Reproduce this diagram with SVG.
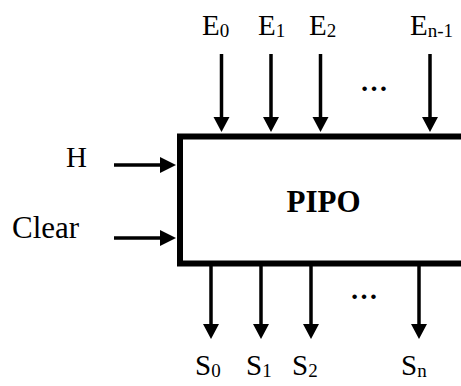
<svg xmlns="http://www.w3.org/2000/svg" width="461" height="386" viewBox="0 0 461 386">
<style>
text{font-family:"Liberation Serif","Times New Roman",serif;fill:#000}
.lbl{font-size:29px}
.sub{font-size:19px}
.c line{stroke:#000;stroke-width:3.5}
.c polygon{fill:#000}
</style>
<rect width="461" height="386" fill="#fff"/>
<g id="pipo">
<rect x="180" y="136.5" width="300" height="127" fill="#fff" stroke="#000" stroke-width="6"/>
<text x="323.5" y="212" font-size="31" font-weight="bold" text-anchor="middle">PIPO</text>
</g>
<g id="labels-in">
<text class="lbl" x="202" y="35">E<tspan class="sub" dy="2">0</tspan></text>
<text class="lbl" x="258" y="35">E<tspan class="sub" dy="2">1</tspan></text>
<text class="lbl" x="309" y="35">E<tspan class="sub" dy="2">2</tspan></text>
<text class="lbl" x="410" y="35">E<tspan class="sub" dy="2">n-1</tspan></text>
<text x="374" y="91" font-size="28" font-weight="bold" text-anchor="middle">…</text>
</g>
<g id="labels-ctrl">
<text class="lbl" x="66" y="167">H</text>
<text x="12" y="238" font-size="31">Clear</text>
</g>
<g id="labels-out">
<text class="lbl" x="195" y="375">S<tspan class="sub" dy="2">0</tspan></text>
<text class="lbl" x="246" y="375">S<tspan class="sub" dy="2">1</tspan></text>
<text class="lbl" x="292" y="375">S<tspan class="sub" dy="2">2</tspan></text>
<text class="lbl" x="401" y="375">S<tspan class="sub" dy="2">n</tspan></text>
<text x="364" y="299" font-size="28" font-weight="bold" text-anchor="middle">…</text>
</g>
<g id="connectors" class="c">
<line x1="221.5" y1="54" x2="221.5" y2="118"/><polygon points="213.5,117 229.5,117 221.5,132"/>
<line x1="271" y1="54" x2="271" y2="118"/><polygon points="263,117 279,117 271,132"/>
<line x1="320.5" y1="54" x2="320.5" y2="118"/><polygon points="312.5,117 328.5,117 320.5,132"/>
<line x1="430" y1="54" x2="430" y2="118"/><polygon points="422,117 438,117 430,132"/>
<line x1="114" y1="165" x2="161" y2="165"/><polygon points="160,157 160,173 176,165"/>
<line x1="114" y1="238" x2="161" y2="238"/><polygon points="160,230 160,246 176,238"/>
<line x1="211" y1="266" x2="211" y2="325"/><polygon points="203,324 219,324 211,339"/>
<line x1="261" y1="266" x2="261" y2="325"/><polygon points="253,324 269,324 261,339"/>
<line x1="311" y1="266" x2="311" y2="325"/><polygon points="303,324 319,324 311,339"/>
<line x1="419" y1="266" x2="419" y2="325"/><polygon points="411,324 427,324 419,339"/>
</g>
</svg>
